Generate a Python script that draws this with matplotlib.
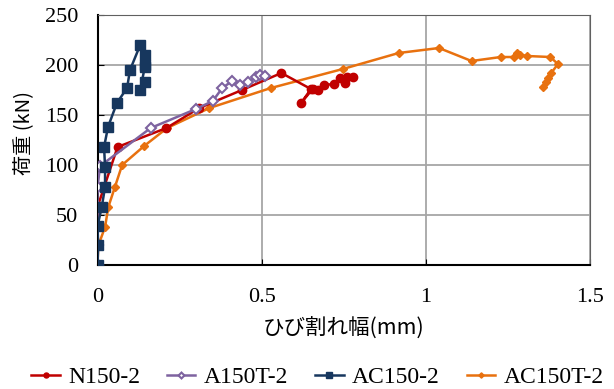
import matplotlib
matplotlib.use("Agg")
import matplotlib.pyplot as plt

# --------------------------------------------------
# Data (crack width mm, load kN)
# --------------------------------------------------
n150_x = [0, 0, 0, 0.0, 0.061, 0.21, 0.31, 0.44, 0.56, 0.65, 0.62, 0.655, 0.67,
          0.69, 0.72, 0.74, 0.755, 0.76, 0.777]
n150_y = [0, 20, 39, 58, 118, 137, 157, 175, 192, 176, 162, 176, 175,
          180, 181, 187, 182, 188, 188]

a150t_x = [0, 0, 0, 0, 0.0, 0.008, 0.162, 0.30, 0.351, 0.38, 0.41, 0.434,
           0.458, 0.482, 0.494, 0.511]
a150t_y = [0, 20, 39, 58, 78, 99, 137, 156, 164, 177, 184, 180,
           183, 188, 190, 189]

ac150_x = [0, 0.002, 0.0, 0.013, 0.023, 0.023, 0.02, 0.032, 0.059, 0.09,
           0.099, 0.13, 0.144, 0.144, 0.144, 0.13, 0.144]
ac150_y = [0, 20, 39, 58, 78, 98, 118, 138, 162, 177,
           195, 220, 210, 200, 198, 175, 183]

ac150t_x = [0, 0.002, 0.023, 0.033, 0.053, 0.075, 0.142, 0.212, 0.341, 0.528,
            0.747, 0.917, 1.04, 1.139, 1.228, 1.268, 1.278, 1.288, 1.309,
            1.379, 1.402, 1.382, 1.371, 1.366, 1.358]
ac150t_y = [0, 19, 38, 58, 78, 100, 119, 137, 157, 177,
            196, 212, 217, 204, 208, 208, 212, 210, 209,
            208, 201, 192, 187, 183, 178]

x_ticks = [0, 0.5, 1, 1.5]
x_tick_labels = ["0", "0.5", "1", "1.5"]
y_ticks = [0, 50, 100, 150, 200, 250]

# --------------------------------------------------
# Plot
# --------------------------------------------------
serif = "Liberation Serif"
jp = ["Noto Sans CJK JP", "DejaVu Sans"]

fig = plt.figure(figsize=(6.14, 3.89), dpi=100)
ax = fig.add_axes([0.1588, 0.3188, 0.8022, 0.6426])

ax.plot(n150_x, n150_y, color="#C00000", marker="o", markersize=6,
        linewidth=1.8, label="N150-2", zorder=3)
ax.plot(a150t_x, a150t_y, color="#7E63A0", marker="D", markersize=5,
        markerfacecolor="white", markeredgewidth=1.5, linewidth=1.8,
        label="A150T-2", zorder=4)
ax.plot(ac150_x, ac150_y, color="#17375E", marker="s", markersize=6.5,
        linewidth=1.8, label="AC150-2", zorder=5)
ax.plot(ac150t_x, ac150t_y, color="#E8710F", marker="D", markersize=4.5,
        linewidth=1.8, label="AC150T-2", zorder=2)

ax.set_xlim(0, 1.5)
ax.set_ylim(0, 250)
ax.set_xticks(x_ticks)
ax.set_xticklabels(x_tick_labels)
ax.set_yticks(y_ticks)
ax.grid(True, color="#A6A6A6", linewidth=1.3)
ax.set_axisbelow(True)
ax.tick_params(direction="in", length=4, labelsize=16)
ax.tick_params(axis="y", pad=14)
ax.tick_params(axis="x", pad=16.5)
for lbl in ax.get_xticklabels() + ax.get_yticklabels():
    lbl.set_fontfamily(serif)

for side in ["top", "right"]:
    ax.spines[side].set_color("#606060")
for side in ["left", "bottom"]:
    ax.spines[side].set_color("black")
    ax.spines[side].set_linewidth(1.5)

ax.set_xlabel("ひび割れ幅(mm)", family=jp, fontsize=15.5, va="center")
ax.xaxis.set_label_coords(0.5, -0.255)
ax.set_ylabel("荷重 (kN)", family=jp, fontsize=14.5, va="center")
ax.yaxis.set_label_coords(-0.148, 0.53)

leg = fig.legend(loc="center", bbox_to_anchor=(0.517, 0.03), ncol=4,
                 frameon=False, prop={"family": serif, "size": 17},
                 handlelength=1.2, handletextpad=0.35, columnspacing=1.15,
                 markerscale=0.6)

fig.savefig("out.png", dpi=100)
